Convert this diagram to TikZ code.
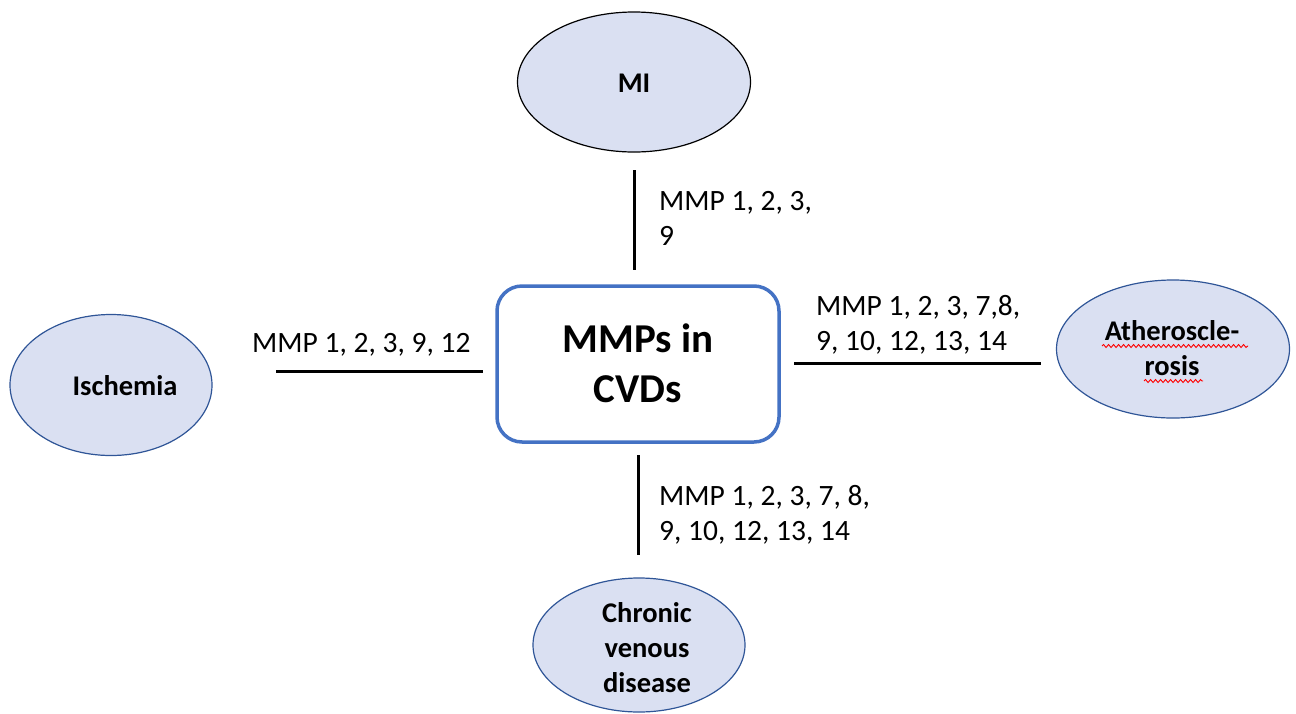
\documentclass[tikz,border=0pt]{standalone}
\usepackage{fontspec}
\setmainfont{Carlito}
\usetikzlibrary{shapes.geometric,decorations.pathmorphing}
\definecolor{bubblefill}{RGB}{218,224,242}
\definecolor{bubbleedge}{RGB}{47,85,151}
\definecolor{hubedge}{RGB}{68,114,196}
\begin{document}
\begin{tikzpicture}[x=1pt,y=-1pt,
  bubble/.style={ellipse,draw=bubbleedge,fill=bubblefill,line width=1.2pt,inner sep=0pt},
  bubbletext/.style={font=\fontsize{28.5}{35}\selectfont\bfseries,align=center,anchor=base,inner sep=0pt},
  hub/.style={rectangle,rounded corners=25pt,draw=hubedge,line width=3.5pt,fill=white,
    minimum width=282pt,minimum height=156pt},
  hubtext/.style={font=\fontsize{41}{50}\selectfont\bfseries,align=center,anchor=base,inner sep=0pt},
  link/.style={line width=3pt,draw=black},
  tag/.style={font=\fontsize{29.5}{35}\selectfont,align=left,anchor=base west,inner sep=0pt},
  spell/.style={draw=red,line width=0.9pt,decorate,
    decoration={snake,amplitude=1.5pt,segment length=5pt}}]
\useasboundingbox (0,0) rectangle (1296,713);

% central box (multi-line nodes are placed by their last baseline)
\node[hub] (hub) at (638,364) {};
\node[hubtext] (hubtext) at (638,402) {MMPs in\\CVDs};

% surrounding conditions
\node[bubble,draw=black,minimum width=233pt,minimum height=140pt] (mi) at (634,82) {};
\node[bubbletext] (mitext) at (634,92) {MI};

\node[bubble,minimum width=202pt,minimum height=141pt] (isch) at (111,385) {};
\node[bubbletext] (ischtext) at (125,395) {Ischemia};

\node[bubble,minimum width=233pt,minimum height=138pt] (ath) at (1173,349) {};
\node[bubbletext] (athtext) at (1172,375) {Atheroscle-\\rosis};

\node[bubble,minimum width=212pt,minimum height=134pt] (cvd) at (639,645) {};
\node[bubbletext] (cvdtext) at (647,692) {Chronic\\venous\\disease};

% spell-check marks under the hyphenated word
\draw[spell] (1102,346) -- (1248,346);
\draw[spell] (1144,381) -- (1203,381);

% connector stubs
\coordinate (t1) at (634,170);
\coordinate (t2) at (634,270);
\coordinate (l1) at (276,371);
\coordinate (l2) at (483,371);
\coordinate (r1) at (794,363);
\coordinate (r2) at (1041,363);
\coordinate (b1) at (638,455);
\coordinate (b2) at (638,555);
\draw[link] (t1) -- (t2);
\draw[link] (l1) -- (l2);
\draw[link] (r1) -- (r2);
\draw[link] (b1) -- (b2);

% MMP lists
\node[tag] (tagmi) at (659,245) {MMP 1, 2, 3,\\9};
\node[tag] (tagisch) at (252,352) {MMP 1, 2, 3, 9, 12};
\node[tag] (tagath) at (816,350) {MMP 1, 2, 3, 7,8,\\9, 10, 12, 13, 14};
\node[tag] (tagcvd) at (659,540) {MMP 1, 2, 3, 7, 8,\\9, 10, 12, 13, 14};
\end{tikzpicture}
\end{document}
